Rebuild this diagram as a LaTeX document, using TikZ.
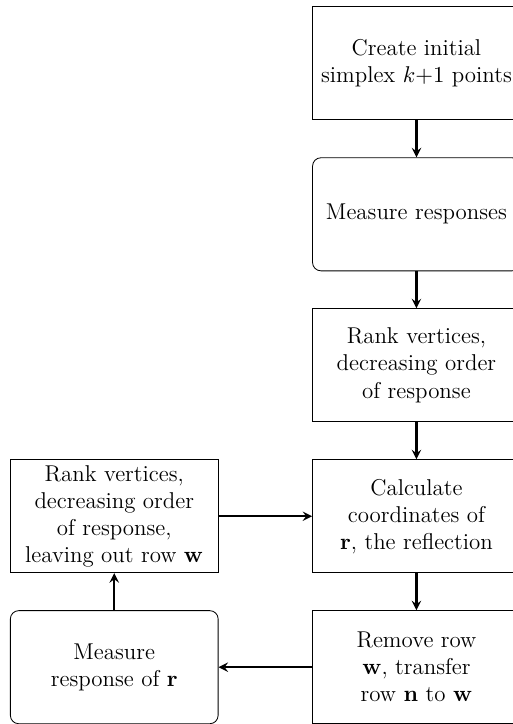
\documentclass[tikz,border=0pt]{standalone}
\usepackage{amsmath,amssymb}
\usepackage{tikz}
\usetikzlibrary{shapes,arrows,positioning,calc}

\begin{document}
\begin{tikzpicture}[
  stepbox/.style={draw, rectangle, minimum width=3.51cm, minimum height=1.91cm, inner ysep=1.5pt, align=center, font=\fontsize{11}{13}\selectfont},
  measure/.style={stepbox, rounded corners=4pt},
  flow/.style={->, >=stealth, line width=1pt}
]
\useasboundingbox (0,0) rectangle (8.65,-12.23);

% Main column
\node[stepbox] (create) at (7.035,-1.07) {Create initial\\simplex $k{+}1$ points};
\node[measure] (measall) at (7.035,-3.62) {Measure responses};
\node[stepbox] (rank) at (7.035,-6.17) {Rank vertices,\\decreasing order\\of response};
\node[stepbox] (calc) at (7.035,-8.72) {Calculate\\coordinates of\\$\mathbf{r}$, the reflection};
\node[stepbox] (remove) at (7.035,-11.27) {Remove row\\$\mathbf{w}$, transfer\\row $\mathbf{n}$ to $\mathbf{w}$};

% Loop column
\node[stepbox] (rerank) at (1.93,-8.72) {Rank vertices,\\decreasing order\\of response,\\leaving out row $\mathbf{w}$};
\node[measure] (measr) at (1.93,-11.27) {Measure\\response of $\mathbf{r}$};

% Main flow
\draw[flow] (create.south) -- (measall.north);
\draw[flow] (measall.south) -- (rank.north);
\draw[flow] (rank.south) -- (calc.north);
\draw[flow] (calc.south) -- (remove.north);

% Loop back
\draw[flow] (remove.west) -- (measr.east);
\draw[flow] (measr.north) -- (rerank.south);
\draw[flow] (rerank.east) -- (calc.west);
\end{tikzpicture}
\end{document}
